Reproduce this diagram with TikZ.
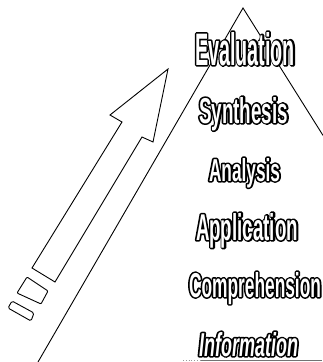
\documentclass[tikz,border=0pt]{standalone}
\usepackage{fontspec}
\usepackage{graphicx}
\newfontfamily\wf{Liberation Sans}[FakeStretch=0.5]
\newcommand\outlon{\special{pdf:literal direct 1 Tr 0 G 3.2 w 1 j}}
\newcommand\outloff{\special{pdf:literal direct 0 Tr}}
\tikzset{
  ln/.style={draw=black,line width=0.9pt,line join=miter},
  wordst/.style={anchor=base west,inner sep=0pt,outer sep=0pt}
}
% #1 name, #2 left x, #3 baseline y, #4 width, #5 height, #6 font size, #7 text
\newcommand\oword[7]{%
  \node[wordst,text=black] (#1o) at (#2,#3) {\resizebox{#4pt}{#5pt}{\fontsize{#6}{#6}\wf\bfseries\outlon#7\outloff}};
  \node[wordst,text=white] (#1) at (#2,#3) {\resizebox{#4pt}{#5pt}{\fontsize{#6}{#6}\wf\bfseries#7}};}
\begin{document}
\begin{tikzpicture}[x=1pt,y=-1pt]
\useasboundingbox (0,0) rectangle (323,362);
\fill[white] (0,0) rectangle (323,362);
% pyramid
\coordinate (apex) at (243,8);
\coordinate (pl) at (38,362);
\coordinate (pr) at (323,135.4);
\draw[ln] (pl) -- (apex) -- (pr);
% arrow
\draw[ln] (168,69) -- (153,142) -- (142,137) -- (55,282) -- (32,268) -- (122,122) -- (110,115) -- cycle;
% blocks
\draw[ln,rounded corners=1pt] (27,277) -- (48,291) -- (41,304) -- (17,293) -- cycle;
\draw[ln,rounded corners=1.5pt] (12,301) -- (34,313) -- (31,321) -- (8,308) -- cycle;
% scan line at the bottom
\coordinate (s1) at (200,360.5);
\coordinate (s2) at (322,360.5);
\draw[black!55,line width=1pt] (s1) -- (s2);
\draw[black!40,line width=0.8pt,dotted] (183,360.5) -- (s1);
% words
\oword{ev}{195}{65}{100}{33}{46}{Evaluation}
\oword{sy}{199}{123}{89}{26}{36}{Synthesis}
\oword{an}{209}{181}{71}{23}{32}{Analysis}
\oword{ap}{196}{240}{102}{27}{37}{Application}
\oword{co}{189}{297}{132}{25}{35}{Comprehension}
\oword{in}{199}{356}{99}{24}{33}{\itshape Information}
\end{tikzpicture}
\end{document}
